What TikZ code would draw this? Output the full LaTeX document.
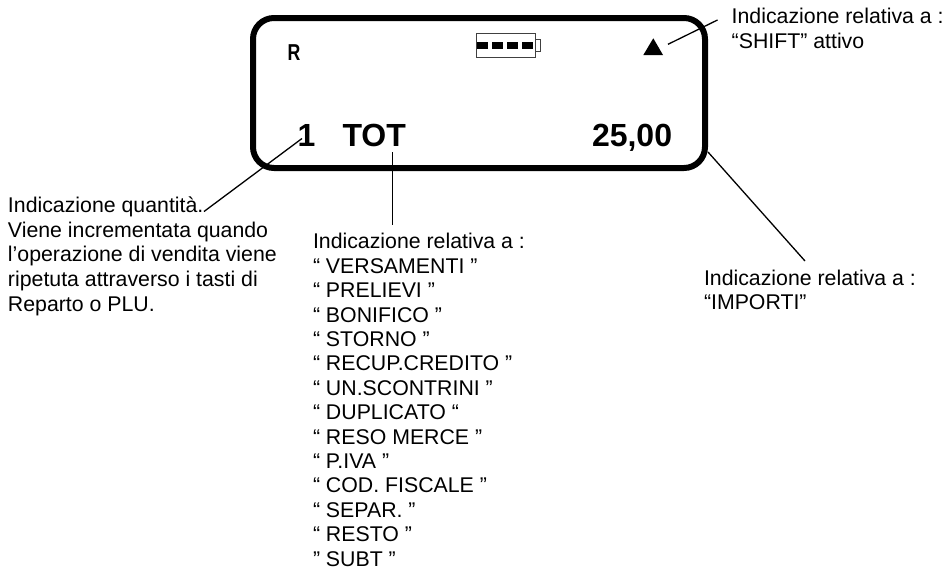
\documentclass[tikz,border=0pt]{standalone}
\usepackage{fontspec}
\setmainfont{Liberation Sans}
\tikzset{
  every node/.style={inner sep=0pt, outer sep=0pt},
  lbl/.style={anchor=north west, align=left, font=\fontsize{21.3}{24.6}\selectfont},
  lcdbig/.style={anchor=base west, font=\fontsize{32}{36}\bfseries\selectfont},
  lead/.style={line width=1.3pt, black},
  frame/.style={line width=6pt, rounded corners=21pt},
  batt/.style={line width=1pt, draw=black!75},
}
\begin{document}
\begin{tikzpicture}[x=1pt,y=-1pt]
\useasboundingbox (0,0) rectangle (945,568);
% display
\draw[frame] (253,18) rectangle (705,168);
\node[anchor=base west, font=\fontsize{23}{26}\bfseries\selectfont, xscale=0.77] (r) at (287.5,60) {R};
\node[lcdbig] (one) at (297.5,146) {1};
\node[lcdbig] (tot) at (342.5,146) {TOT};
\node[lcdbig] (amount) at (592,146) {25,00};
% battery
\draw[batt] (476.7,33.7) rectangle (535.3,57);
\draw[batt] (535.3,39.5) rectangle (540.5,51);
\foreach \bx in {476.7,491.7,506.7,521.7}
  \fill (\bx,41.7) rectangle ++(11,7.6);
% shift triangle
\fill (643.3,55) -- (653.3,38.3) -- (663,55) -- cycle;
% labels
\node[lbl] (lshift) at (731.7,8) {Indicazione relativa a :\\“SHIFT” attivo};
\node[lbl] (lqty) at (8,197) {Indicazione quantità.\\Viene incrementata quando\\l’operazione di vendita viene\\ripetuta attraverso i tasti di\\Reparto o PLU.};
\node[lbl, font=\fontsize{21.3}{24.4}\selectfont] (llist) at (313,233.4) {Indicazione relativa a :\\“ VERSAMENTI ”\\“ PRELIEVI ”\\“ BONIFICO ”\\“ STORNO ”\\“ RECUP.CREDITO ”\\“ UN.SCONTRINI ”\\“ DUPLICATO “\\“ RESO MERCE ”\\“ P.IVA ”\\“ COD. FISCALE ”\\“ SEPAR. ”\\“ RESTO ”\\” SUBT ”};
\node[lbl] (limp) at (704,269.7) {Indicazione relativa a :\\“IMPORTI”};
% connector ends
\coordinate (qa) at (302,138.5);
\coordinate (qb) at (204,211.5);
\coordinate (ta) at (392.3,152);
\coordinate (tb) at (392.3,225);
\coordinate (sa) at (668,44.3);
\coordinate (sb) at (717.5,20);
\coordinate (ia) at (708,152);
\coordinate (ib) at (805,261);
\draw[lead] (qa) -- (qb);
\draw[lead] (ta) -- (tb);
\draw[lead] (sa) -- (sb);
\draw[lead] (ia) -- (ib);
\end{tikzpicture}
\end{document}
